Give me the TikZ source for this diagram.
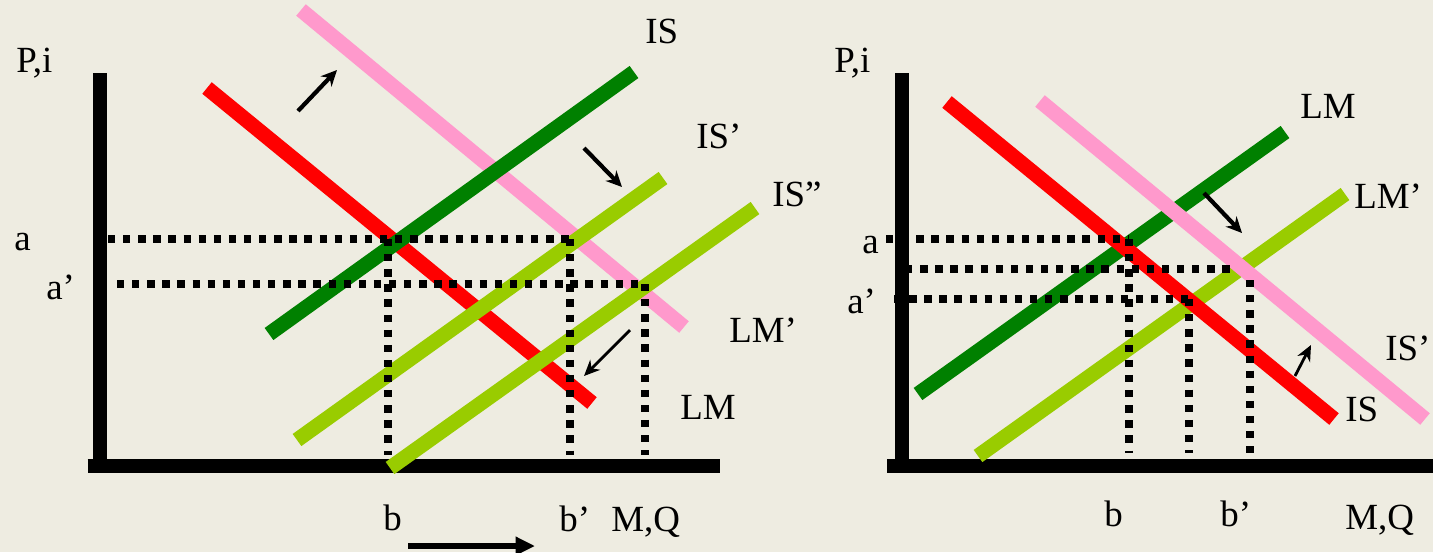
\documentclass[tikz,border=0pt]{standalone}
\usepackage{fontspec}
\setmainfont{Liberation Serif}
\usetikzlibrary{arrows.meta}
\definecolor{bg}{HTML}{EEECE1}
\definecolor{isred}{HTML}{FF0000}
\definecolor{ispink}{HTML}{FF99CC}
\definecolor{lmdark}{HTML}{008000}
\definecolor{lmlight}{HTML}{99CC00}
\begin{document}
\begin{tikzpicture}[x=0.02cm,y=-0.02cm,
  curve/.style={line width=8.5pt},
  axisline/.style={line width=8pt},
  guide/.style={line width=4.2pt, dash pattern=on 4.2pt off 4.4pt},
  lbl/.style={anchor=base west, inner sep=0pt, font=\fontsize{21}{24}\selectfont},
  shiftarrow/.style={line width=2.4pt, -{Stealth[length=9pt,width=8.5pt]}},
  thinarrow/.style={line width=1.6pt, -{Stealth[length=9pt,width=8pt]}},
  bigarrow/.style={line width=3pt, -{Stealth[length=11pt,width=10pt,inset=0pt]}}]
\fill[bg] (0,0) rectangle (1433,552);
\useasboundingbox (0,0) rectangle (1433,552);

% ---------------- left panel ----------------
\coordinate (LyT) at (100,73); \coordinate (LO) at (100,466); \coordinate (LxR) at (720,466);
\draw[axisline] (LyT) -- (LO);
\draw[axisline] ([xshift=-7]LO) -- (LxR);

\coordinate (Lred1) at (207,88);   \coordinate (Lred2) at (592,403);
\coordinate (Lpink1) at (301,10);  \coordinate (Lpink2) at (684,327);
\coordinate (Ldark1) at (269,334); \coordinate (Ldark2) at (634,72);
\coordinate (Llg1a) at (297,440);  \coordinate (Llg1b) at (663,178);
\coordinate (Llg2a) at (390,468);  \coordinate (Llg2b) at (755,208);
\draw[curve, isred] (Lred1) -- (Lred2);
\draw[curve, ispink] (Lpink1) -- (Lpink2);
\draw[curve, lmdark] (Ldark1) -- (Ldark2);
\draw[curve, lmlight] (Llg1a) -- (Llg1b);
\draw[curve, lmlight] (Llg2a) -- (Llg2b);

\coordinate (La1) at (108,239); \coordinate (La2) at (570,239);
\coordinate (Lap1) at (117,284); \coordinate (Lap2) at (645,284);
\coordinate (Lb1) at (388,239); \coordinate (Lb2) at (388,455);
\coordinate (Lbp1) at (570,239); \coordinate (Lbp2) at (570,455);
\coordinate (Lc1) at (645,284); \coordinate (Lc2) at (645,455);
\draw[guide] (La1) -- (La2);
\draw[guide] (Lap1) -- (Lap2);
\draw[guide] (Lb1) -- (Lb2);
\draw[guide] (Lbp1) -- (Lbp2);
\draw[guide] (Lc1) -- (Lc2);

\coordinate (Lar1a) at (298,111); \coordinate (Lar1b) at (337,70);
\coordinate (Lar2a) at (584,148); \coordinate (Lar2b) at (622,187);
\coordinate (Lar3a) at (630,330); \coordinate (Lar3b) at (584,376);
\coordinate (Lar4a) at (408,546); \coordinate (Lar4b) at (535,546);
\draw[shiftarrow] (Lar1a) -- (Lar1b);
\draw[shiftarrow] (Lar2a) -- (Lar2b);
\draw[thinarrow] (Lar3a) -- (Lar3b);
\draw[bigarrow] (Lar4a) -- (Lar4b);

\node[lbl] (LPi) at (16,72) {P,i};
\node[lbl] (La) at (14,250) {a};
\node[lbl] (Lap) at (46,299) {a’};
\node[lbl] (Lb) at (383,530) {b};
\node[lbl] (Lbp) at (559,531) {b’};
\node[lbl] (LMQ) at (611,531) {M,Q};
\node[lbl] (LIS) at (645,43) {IS};
\node[lbl] (LISp) at (696,148) {IS’};
\node[lbl] (LISpp) at (772,206) {IS”};
\node[lbl] (LLMp) at (729,342) {LM’};
\node[lbl] (LLM) at (680,419) {LM};

% ---------------- right panel ----------------
\coordinate (RyT) at (902,73); \coordinate (RO) at (902,466); \coordinate (RxR) at (1433,466);
\coordinate (RxL) at (887,466);
\draw[axisline] (RyT) -- (RO);
\draw[axisline] (RxL) -- (RxR);

\coordinate (Rred1) at (947,102);  \coordinate (Rred2) at (1334,419);
\coordinate (Rpink1) at (1040,101); \coordinate (Rpink2) at (1425,419);
\coordinate (Rdark1) at (918,394); \coordinate (Rdark2) at (1285,132);
\coordinate (Rlg1) at (978,456);   \coordinate (Rlg2) at (1345,194);
\draw[curve, lmdark] (Rdark1) -- (Rdark2);
\draw[curve, lmlight] (Rlg1) -- (Rlg2);
\draw[curve, isred] (Rred1) -- (Rred2);
\draw[curve, ispink] (Rpink1) -- (Rpink2);

\coordinate (Ra1) at (886,239); \coordinate (Ra2) at (1128,239);
\coordinate (Rm1) at (905,269); \coordinate (Rm2) at (1234,269);
\coordinate (Rap1) at (894,299); \coordinate (Rap2) at (1189,299);
\coordinate (Rb1) at (1129,239); \coordinate (Rb2) at (1129,453);
\coordinate (Rc1) at (1189,299); \coordinate (Rc2) at (1189,453);
\coordinate (Rbp1) at (1250,280); \coordinate (Rbp2) at (1250,453);
\draw[guide] (Ra1) -- (Ra2);
\draw[guide] (Rm1) -- (Rm2);
\draw[guide] (Rap1) -- (Rap2);
\draw[guide] (Rb1) -- (Rb2);
\draw[guide] (Rc1) -- (Rc2);
\draw[guide] (Rbp1) -- (Rbp2);

\coordinate (Rar1a) at (1204,193); \coordinate (Rar1b) at (1242,233);
\coordinate (Rar2a) at (1295,376); \coordinate (Rar2b) at (1311,345);
\draw[shiftarrow] (Rar1a) -- (Rar1b);
\draw[thinarrow] (Rar2a) -- (Rar2b);

\node[lbl] (RPi) at (834,72) {P,i};
\node[lbl] (Ra) at (862,253) {a};
\node[lbl] (Rap) at (847,313) {a’};
\node[lbl] (Rb) at (1104,526) {b};
\node[lbl] (Rbp) at (1220,526) {b’};
\node[lbl] (RMQ) at (1345,529) {M,Q};
\node[lbl] (RLM) at (1300,118) {LM};
\node[lbl] (RLMp) at (1354,208) {LM’};
\node[lbl] (RISp) at (1385,360) {IS’};
\node[lbl] (RIS) at (1345,421) {IS};
\end{tikzpicture}
\end{document}
